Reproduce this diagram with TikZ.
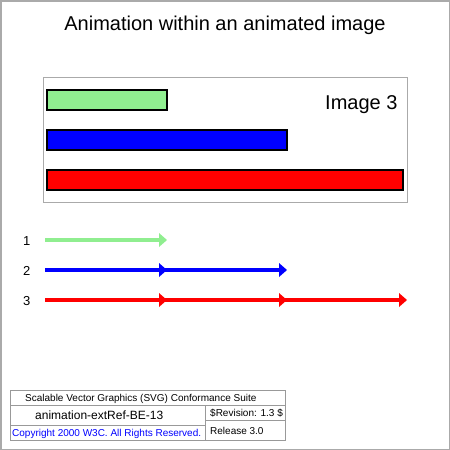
\documentclass[tikz,border=0pt]{standalone}
\usepackage{fontspec}
\setmainfont{Liberation Sans}
\definecolor{lgreen}{HTML}{90EE90}
\definecolor{framegray}{HTML}{AAAAAA}
\definecolor{legendgray}{HTML}{999999}
\tikzset{
  txt/.style={inner sep=0pt, anchor=base west},
  bar/.style={draw=black, line width=2pt, inner sep=0pt, outer sep=0pt, anchor=north west},
  ln/.style={line width=4pt},
  legend/.style={draw=legendgray, line width=1pt},
}
\newcommand{\headat}[2]{\fill[#2] ([shift={(-8,-7)}]#1) -- (#1) -- ([shift={(-8,7)}]#1) -- cycle;}
\begin{document}
\begin{tikzpicture}[x=1pt,y=-1pt]
\useasboundingbox (0,0) rectangle (450,450);
\draw[framegray, line width=1.5pt] (0.75,0.75) rectangle (449.25,449.25);
% title
\node[inner sep=0pt, anchor=base, font=\fontsize{20}{24}\selectfont] (title) at (225,30) {Animation within an animated image};
% image frame
\draw[framegray, line width=1pt] (43,77) rectangle (407,202);
\node[bar, fill=lgreen, minimum width=120pt, minimum height=20pt] (bg) at (47,90) {};
\node[bar, fill=blue, minimum width=240pt, minimum height=20pt] (bb) at (47,130) {};
\node[bar, fill=red, minimum width=356pt, minimum height=20pt] (br) at (47,170) {};
\node[txt, font=\fontsize{20}{24}\selectfont] (img) at (325,109) {Image 3};
% labels
\node[txt, font=\fontsize{13}{15}\selectfont] (l1) at (23,245) {1};
\node[txt, font=\fontsize{13}{15}\selectfont] (l2) at (23,275) {2};
\node[txt, font=\fontsize{13}{15}\selectfont] (l3) at (23,305) {3};
% arrows
\coordinate (g0) at (45,240); \coordinate (g1) at (167,240); \coordinate (g1e) at (161,240);
\coordinate (b0) at (45,270); \coordinate (b1) at (167,270); \coordinate (b2) at (287,270); \coordinate (b2e) at (281,270);
\coordinate (r0) at (45,300); \coordinate (r1) at (167,300); \coordinate (r2) at (287,300); \coordinate (r3) at (407,300); \coordinate (r3e) at (401,300);
\draw[ln, lgreen] (g0) -- (g1e);
\headat{g1}{lgreen}
\draw[ln, blue] (b0) -- (b2e);
\headat{b1}{blue}
\headat{b2}{blue}
\draw[ln, red] (r0) -- (r3e);
\headat{r1}{red}
\headat{r2}{red}
\headat{r3}{red}
% legend
\draw[legend] (10,390) rectangle (285,440);
\draw[legend] (10,405) -- (285,405);
\draw[legend] (205,405) -- (205,440);
\draw[legend] (10,425) -- (205,425);
\draw[legend] (205,420) -- (285,420);
\node[txt, font=\fontsize{10}{12}\selectfont] (suite) at (25,401) {Scalable Vector Graphics (SVG) Conformance Suite};
\node[txt, font=\fontsize{12}{14}\selectfont] (tname) at (35,419.5) {animation-extRef-BE-13};
\node[txt, font=\fontsize{10}{12}\selectfont] (rev) at (210,416.5) {\$Revision: 1.3 \$};
\node[txt, font=\fontsize{10}{12}\selectfont] (rel) at (210,434) {Release 3.0};
\node[txt, font=\fontsize{10}{12}\selectfont, text=blue] (copy) at (12,436) {Copyright 2000 W3C. All Rights Reserved.};
\end{tikzpicture}
\end{document}
